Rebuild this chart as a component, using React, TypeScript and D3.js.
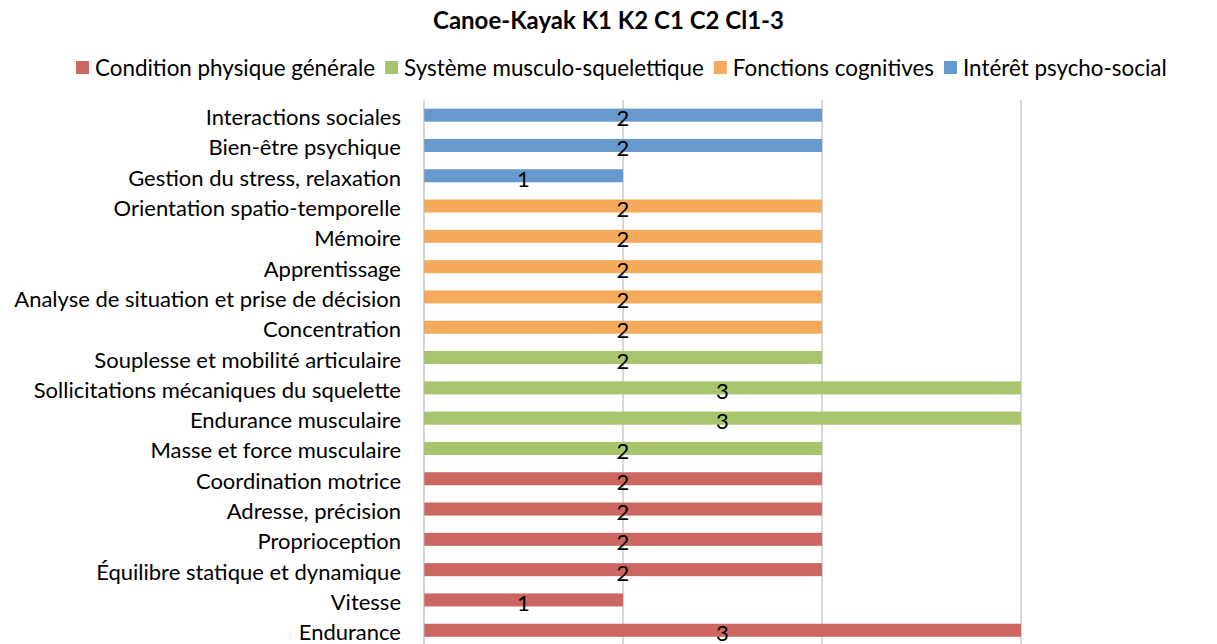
import React, { useEffect, useRef } from "react";
import * as d3 from "d3";

const title = "Canoe-Kayak K1 K2 C1 C2 Cl1-3";

const groups = [
  "Condition physique générale",
  "Système musculo-squelettique",
  "Fonctions cognitives",
  "Intérêt psycho-social",
];

const groupColors = ["#CC6660", "#A8C46C", "#F5AA5C", "#6699CD"];

// top to bottom order
const categories = [
  "Interactions sociales",
  "Bien-être psychique",
  "Gestion du stress, relaxation",
  "Orientation spatio-temporelle",
  "Mémoire",
  "Apprentissage",
  "Analyse de situation et prise de décision",
  "Concentration",
  "Souplesse et mobilité articulaire",
  "Sollicitations mécaniques du squelette",
  "Endurance musculaire",
  "Masse et force musculaire",
  "Coordination motrice",
  "Adresse, précision",
  "Proprioception",
  "Équilibre statique et dynamique",
  "Vitesse",
  "Endurance",
];

const values = [2, 2, 1, 2, 2, 2, 2, 2, 2, 3, 3, 2, 2, 2, 2, 2, 1, 3];

const groupIndex = [3, 3, 3, 2, 2, 2, 2, 2, 1, 1, 1, 1, 0, 0, 0, 0, 0, 0];

const xTicks = [0, 1, 2, 3];

const FONT = "Lato, 'Open Sans', sans-serif";

export default function App() {
  const ref = useRef<SVGSVGElement | null>(null);

  useEffect(() => {
    const svg = d3.select(ref.current);
    svg.selectAll("*").remove();

    const W = 1217;
    const left = 424;
    const right = 1021;
    const top = 100;
    const step = 30.3;
    const bottom = top + step * categories.length;

    const x = d3.scaleLinear().domain([0, 3]).range([left, right]);
    const y = d3
      .scaleBand<string>()
      .domain(categories)
      .range([top, bottom])
      .paddingInner(0.57)
      .paddingOuter(0.285);

    // title
    svg
      .append("text")
      .attr("x", W / 2)
      .attr("y", 29)
      .attr("text-anchor", "middle")
      .attr("font-family", FONT)
      .attr("font-weight", "bold")
      .attr("font-size", 24)
      .attr("fill", "#000")
      .text(title);

    // legend
    const lg = svg.append("g");
    let lx = 76;
    groups.forEach((g, i) => {
      lg.append("rect")
        .attr("x", lx)
        .attr("y", 61)
        .attr("width", 13)
        .attr("height", 13)
        .attr("fill", groupColors[i]);
      const t = lg
        .append("text")
        .attr("x", lx + 19)
        .attr("y", 76)
        .attr("font-family", FONT)
        .attr("font-size", 22.4)
        .attr("fill", "#000")
        .text(g);
      const w = (t.node() as SVGTextElement).getComputedTextLength();
      lx += 19 + w + 10;
    });

    // grid lines
    svg
      .append("g")
      .selectAll("line")
      .data(xTicks.slice(1))
      .join("line")
      .attr("x1", (d) => x(d))
      .attr("x2", (d) => x(d))
      .attr("y1", top)
      .attr("y2", bottom)
      .attr("stroke", "#B0B0B0")
      .attr("stroke-width", 1);

    // bars
    svg
      .append("g")
      .selectAll("rect")
      .data(categories)
      .join("rect")
      .attr("x", x(0))
      .attr("y", (d) => y(d)!)
      .attr("width", (d, i) => x(values[i]) - x(0))
      .attr("height", y.bandwidth())
      .attr("fill", (d, i) => groupColors[groupIndex[i]]);

    // axis line
    svg
      .append("line")
      .attr("x1", x(0))
      .attr("x2", x(0))
      .attr("y1", top)
      .attr("y2", bottom)
      .attr("stroke", "#B0B0B0")
      .attr("stroke-width", 1);

    // category labels
    svg
      .append("g")
      .selectAll("text")
      .data(categories)
      .join("text")
      .attr("x", left - 23)
      .attr("y", (d) => y(d)! + y.bandwidth() / 2 + 10)
      .attr("text-anchor", "end")
      .attr("font-family", FONT)
      .attr("font-size", 22)
      .attr("fill", "#000")
      .text((d) => d);

    // value labels
    svg
      .append("g")
      .selectAll("text")
      .data(categories)
      .join("text")
      .attr("x", (d, i) => x(values[i] / 2))
      .attr("y", (d) => y(d)! + y.bandwidth() / 2 + 11)
      .attr("text-anchor", "middle")
      .attr("font-family", FONT)
      .attr("font-size", 22)
      .attr("fill", "#000")
      .text((d, i) => String(values[i]));
  }, []);

  return (
    <svg
      ref={ref}
      width={1217}
      height={644}
      style={{ position: "absolute", left: 0, top: 0, background: "#fff" }}
    />
  );
}
